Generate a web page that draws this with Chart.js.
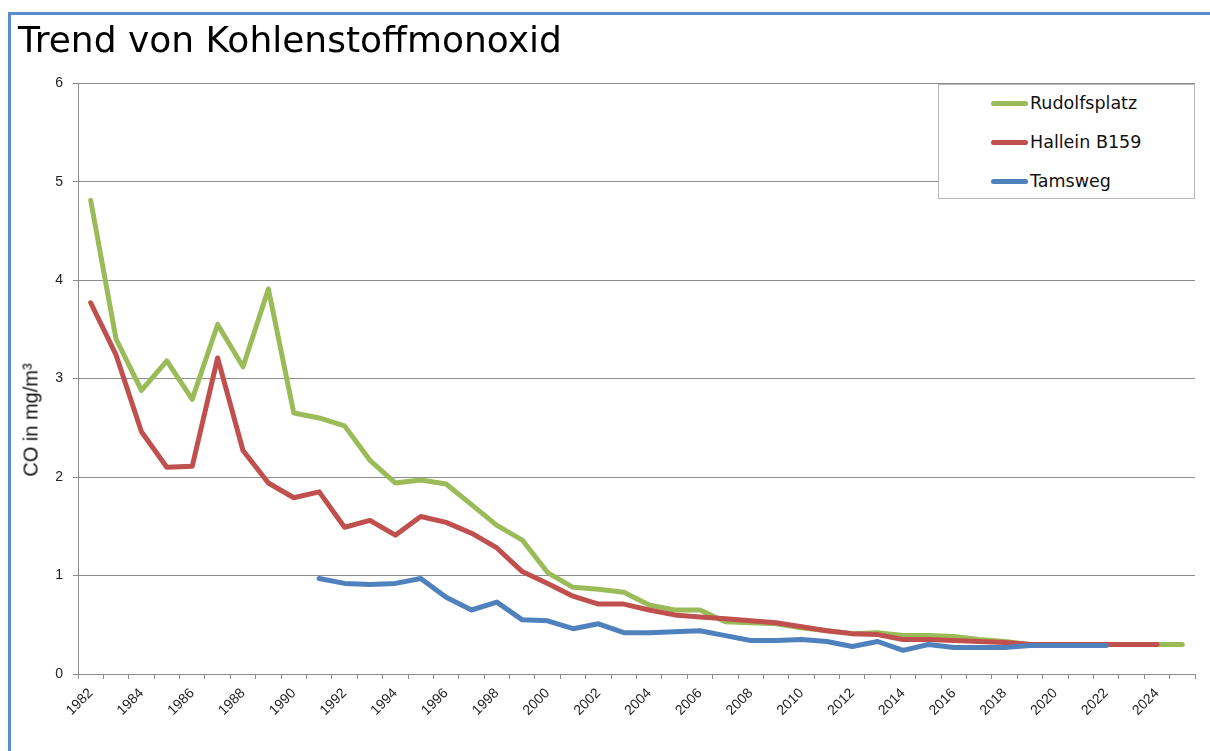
<!DOCTYPE html>
<html>
<head>
<meta charset="utf-8">
<script src="https://cdn.jsdelivr.net/npm/chart.js@4.4.0/dist/chart.umd.min.js"></script>
<style>
    body { margin: 0; background: #fff; }
    #wrap { position: relative; width: 1210px; height: 751px; overflow: hidden; }
    #frame { position: absolute; left: 8px; top: 12px; width: 1400px; height: 900px;
             border-left: 3px solid #5b8ccc; border-top: 3px solid #5b8ccc; }
    canvas { position: absolute; left: 0; top: 0; }
    #ytitle { position: absolute; left: 31px; top: 420px; transform: translate(-50%, -50%) rotate(-90deg);
              font-family: 'Liberation Sans', sans-serif; font-size: 20px; font-weight: normal;
              color: #111; white-space: nowrap; }
    #legend { position: absolute; left: 938px; top: 84px; width: 257px; height: 115px;
              border: 1px solid #b8b8b8; background: #fff; box-sizing: border-box; }
    .item { position: absolute; left: 52px; height: 20px; display: flex; align-items: center;
            font-family: 'DejaVu Sans', sans-serif; font-size: 17.5px; color: #111; }
    .swatch { width: 37px; height: 5px; border-radius: 3px; margin-right: 2px; }
</style>
</head>
<body>
<div id="wrap">
    <div id="frame"></div>
    <canvas id="chart" width="1210" height="751"></canvas>
    <div id="ytitle">CO in mg/m³</div>
    <div id="legend"></div>
</div>
<script>
const years = ['1982','1983','1984','1985','1986','1987','1988','1989','1990','1991',
    '1992','1993','1994','1995','1996','1997','1998','1999','2000','2001',
    '2002','2003','2004','2005','2006','2007','2008','2009','2010','2011',
    '2012','2013','2014','2015','2016','2017','2018','2019','2020','2021',
    '2022','2023','2024','2025'];

const rudolfsplatz = [4.81, 3.40, 2.88, 3.18, 2.79, 3.55, 3.12, 3.91, 2.65, 2.60,
    2.52, 2.17, 1.94, 1.97, 1.93, 1.72, 1.51, 1.36, 1.03, 0.88,
    0.86, 0.83, 0.70, 0.65, 0.65, 0.53, 0.52, 0.51, 0.47, 0.44,
    0.41, 0.42, 0.39, 0.39, 0.38, 0.35, 0.33, 0.30, 0.30, 0.30,
    0.30, 0.30, 0.30, 0.30];

const hallein = [3.77, 3.24, 2.46, 2.10, 2.11, 3.21, 2.27, 1.94, 1.79, 1.85,
    1.49, 1.56, 1.41, 1.60, 1.54, 1.43, 1.28, 1.04, 0.92, 0.79,
    0.71, 0.71, 0.65, 0.60, 0.58, 0.56, 0.54, 0.52, 0.48, 0.44,
    0.41, 0.40, 0.35, 0.35, 0.34, 0.33, 0.32, 0.30, 0.30, 0.30,
    0.30, 0.30, 0.30, null];

const tamsweg = [null, null, null, null, null, null, null, null, null, 0.97,
    0.92, 0.91, 0.92, 0.97, 0.78, 0.65, 0.73, 0.55, 0.54, 0.46,
    0.51, 0.42, 0.42, 0.43, 0.44, 0.39, 0.34, 0.34, 0.35, 0.33,
    0.28, 0.33, 0.24, 0.30, 0.27, 0.27, 0.27, 0.29, 0.29, 0.29,
    0.29, null, null, null];

const yTicks = [0, 1, 2, 3, 4, 5, 6];

// order: green drawn first, blue on top (like the original)
const series = [
    { label: 'Rudolfsplatz', data: rudolfsplatz, color: '#9bbb59', order: 3 },
    { label: 'Hallein B159', data: hallein, color: '#c0504d', order: 2 },
    { label: 'Tamsweg', data: tamsweg, color: '#4f81bd', order: 1 }
];

const gridColor = '#8c8c8c';

new Chart(document.getElementById('chart').getContext('2d'), {
    type: 'line',
    data: {
        labels: years,
        datasets: series.map(s => ({
            label: s.label,
            data: s.data,
            order: s.order,
            borderColor: s.color,
            backgroundColor: s.color,
            borderWidth: 5,
            borderCapStyle: 'round',
            borderJoinStyle: 'round',
            tension: 0,
            pointRadius: 0,
            spanGaps: false,
            fill: false
        }))
    },
    options: {
        responsive: false,
        animation: false,
        layout: { padding: { left: 18, right: 15, top: 0, bottom: 0 } },
        plugins: {
            legend: { display: false },
            tooltip: { enabled: false },
            title: {
                display: true,
                text: 'Trend von Kohlenstoffmonoxid',
                align: 'start',
                color: '#000',
                font: { family: 'DejaVu Sans', size: 36, weight: 'normal' },
                padding: { top: 21, bottom: 19 }
            }
        },
        scales: {
            x: {
                offset: true,
                grid: { offset: true, drawOnChartArea: false, color: gridColor, tickLength: 5 },
                border: { color: gridColor },
                ticks: {
                    autoSkip: false,
                    minRotation: 45,
                    maxRotation: 45,
                    padding: 6,
                    color: '#222',
                    font: { family: 'Liberation Sans', size: 14 },
                    callback: function (v, i) { return i % 2 === 0 ? years[i] : ''; }
                },
                afterFit: function (s) { s.height = 77; }
            },
            y: {
                min: 0,
                max: 6,
                afterBuildTicks: function (s) { s.ticks = yTicks.map(v => ({ value: v })); },
                grid: { color: gridColor, tickLength: 5 },
                border: { color: gridColor },
                ticks: { color: '#222', padding: 10, font: { family: 'Liberation Sans', size: 14 } },
                afterFit: function (s) { s.width = 60; }
            }
        }
    }
});

const legend = document.getElementById('legend');
series.forEach((s, i) => {
    const it = document.createElement('div');
    it.className = 'item';
    it.style.top = (8 + i * 39) + 'px';
    it.innerHTML = '<span class="swatch" style="background:' + s.color + '"></span>' + s.label;
    legend.appendChild(it);
});
</script>
</body>
</html>
